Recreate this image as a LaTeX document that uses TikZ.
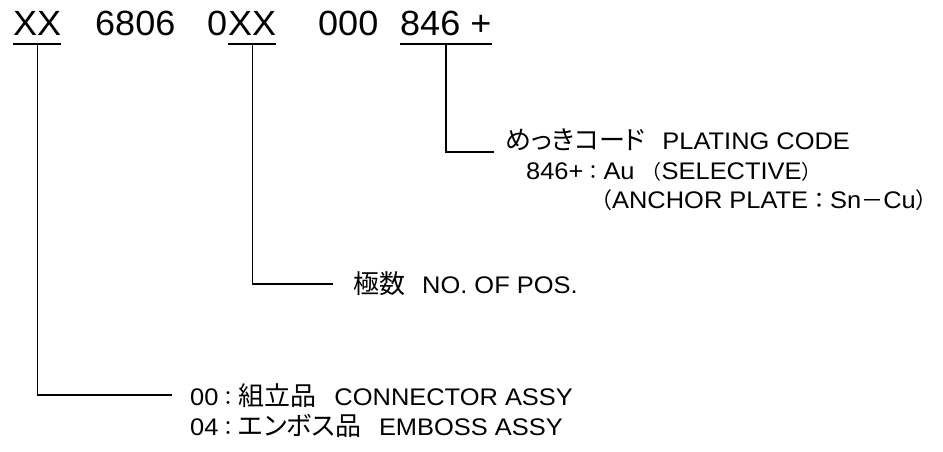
\documentclass[tikz,border=0pt]{standalone}
\usepackage{fontspec}
\setmainfont{Liberation Sans}
\newfontfamily\topf[FakeStretch=1.03]{Liberation Sans}
\newfontfamily\lat[FakeStretch=1.06]{Liberation Sans}
\newfontfamily\jp[RawFeature=+palt]{Noto Sans CJK JP}
\newfontfamily\jpw{Noto Sans CJK JP}
\newcommand\Jt[1]{{\fontsize{26}{30}\jp #1}}
\newcommand\Pu[1]{{\fontsize{20}{24}\jpw #1}}
\newcommand\Pw[1]{{\fontsize{22}{26}\jpw #1}}
\begin{document}
\begin{tikzpicture}[x=1pt,y=-1pt,
  lbl/.style={anchor=base west, inner sep=0pt, font=\fontsize{24}{28}\lat},
  topl/.style={anchor=base west, inner sep=0pt, font=\fontsize{35}{42}\topf},
  uline/.style={line width=2.5pt},
  lead/.style={line width=1.4pt}]
\useasboundingbox (0,0) rectangle (943,452);
\node[topl] (t1) at (13,36) {XX};
\node[topl] (t2) at (95,36) {6806};
\node[topl] (t3) at (207,36) {0};
\node[topl] (t4) at (228,36) {XX};
\node[topl] (t5) at (318,36) {000};
\node[topl] (t6) at (400,36) {846 +};
\coordinate (u) at (0,44);
\draw[uline] (t1.west |- u) -- (t1.east |- u);
\draw[uline] (t4.west |- u) -- (t4.east |- u);
\draw[uline] (t6.west |- u) -- (t6.east |- u);
\coordinate (k1) at (172,395);
\coordinate (k2) at (333,284);
\coordinate (k3) at (494,152);
\draw[lead] (t1.south |- u) |- (k1);
\draw[lead] (t4.south |- u) |- (k2);
\draw[lead] (t6.south |- u) |- (k3);
\node[lbl] (p1) at (505,149) {\Jt{めっきコード}\hspace{17pt}PLATING CODE};
\node[lbl] (p2) at (526,179) {846+\Pu{：}Au \Pu{（}SELECTIVE\Pu{）}};
\node[lbl, anchor=base east] (p3) at (938,208) {\Pw{（}ANCHOR PLATE\Pw{：}Sn\Pw{－}Cu\Pw{）}};
\node[lbl] (n1) at (353,293) {\Jt{極数}\hspace{17pt}NO. OF POS.};
\node[lbl] (c1) at (190,405) {00\Pu{：}\Jt{組立品}\hspace{18pt}CONNECTOR ASSY};
\node[lbl] (c2) at (190,435) {04\Pu{：}\Jt{エンボス品}\hspace{18pt}EMBOSS ASSY};
\end{tikzpicture}
\end{document}
